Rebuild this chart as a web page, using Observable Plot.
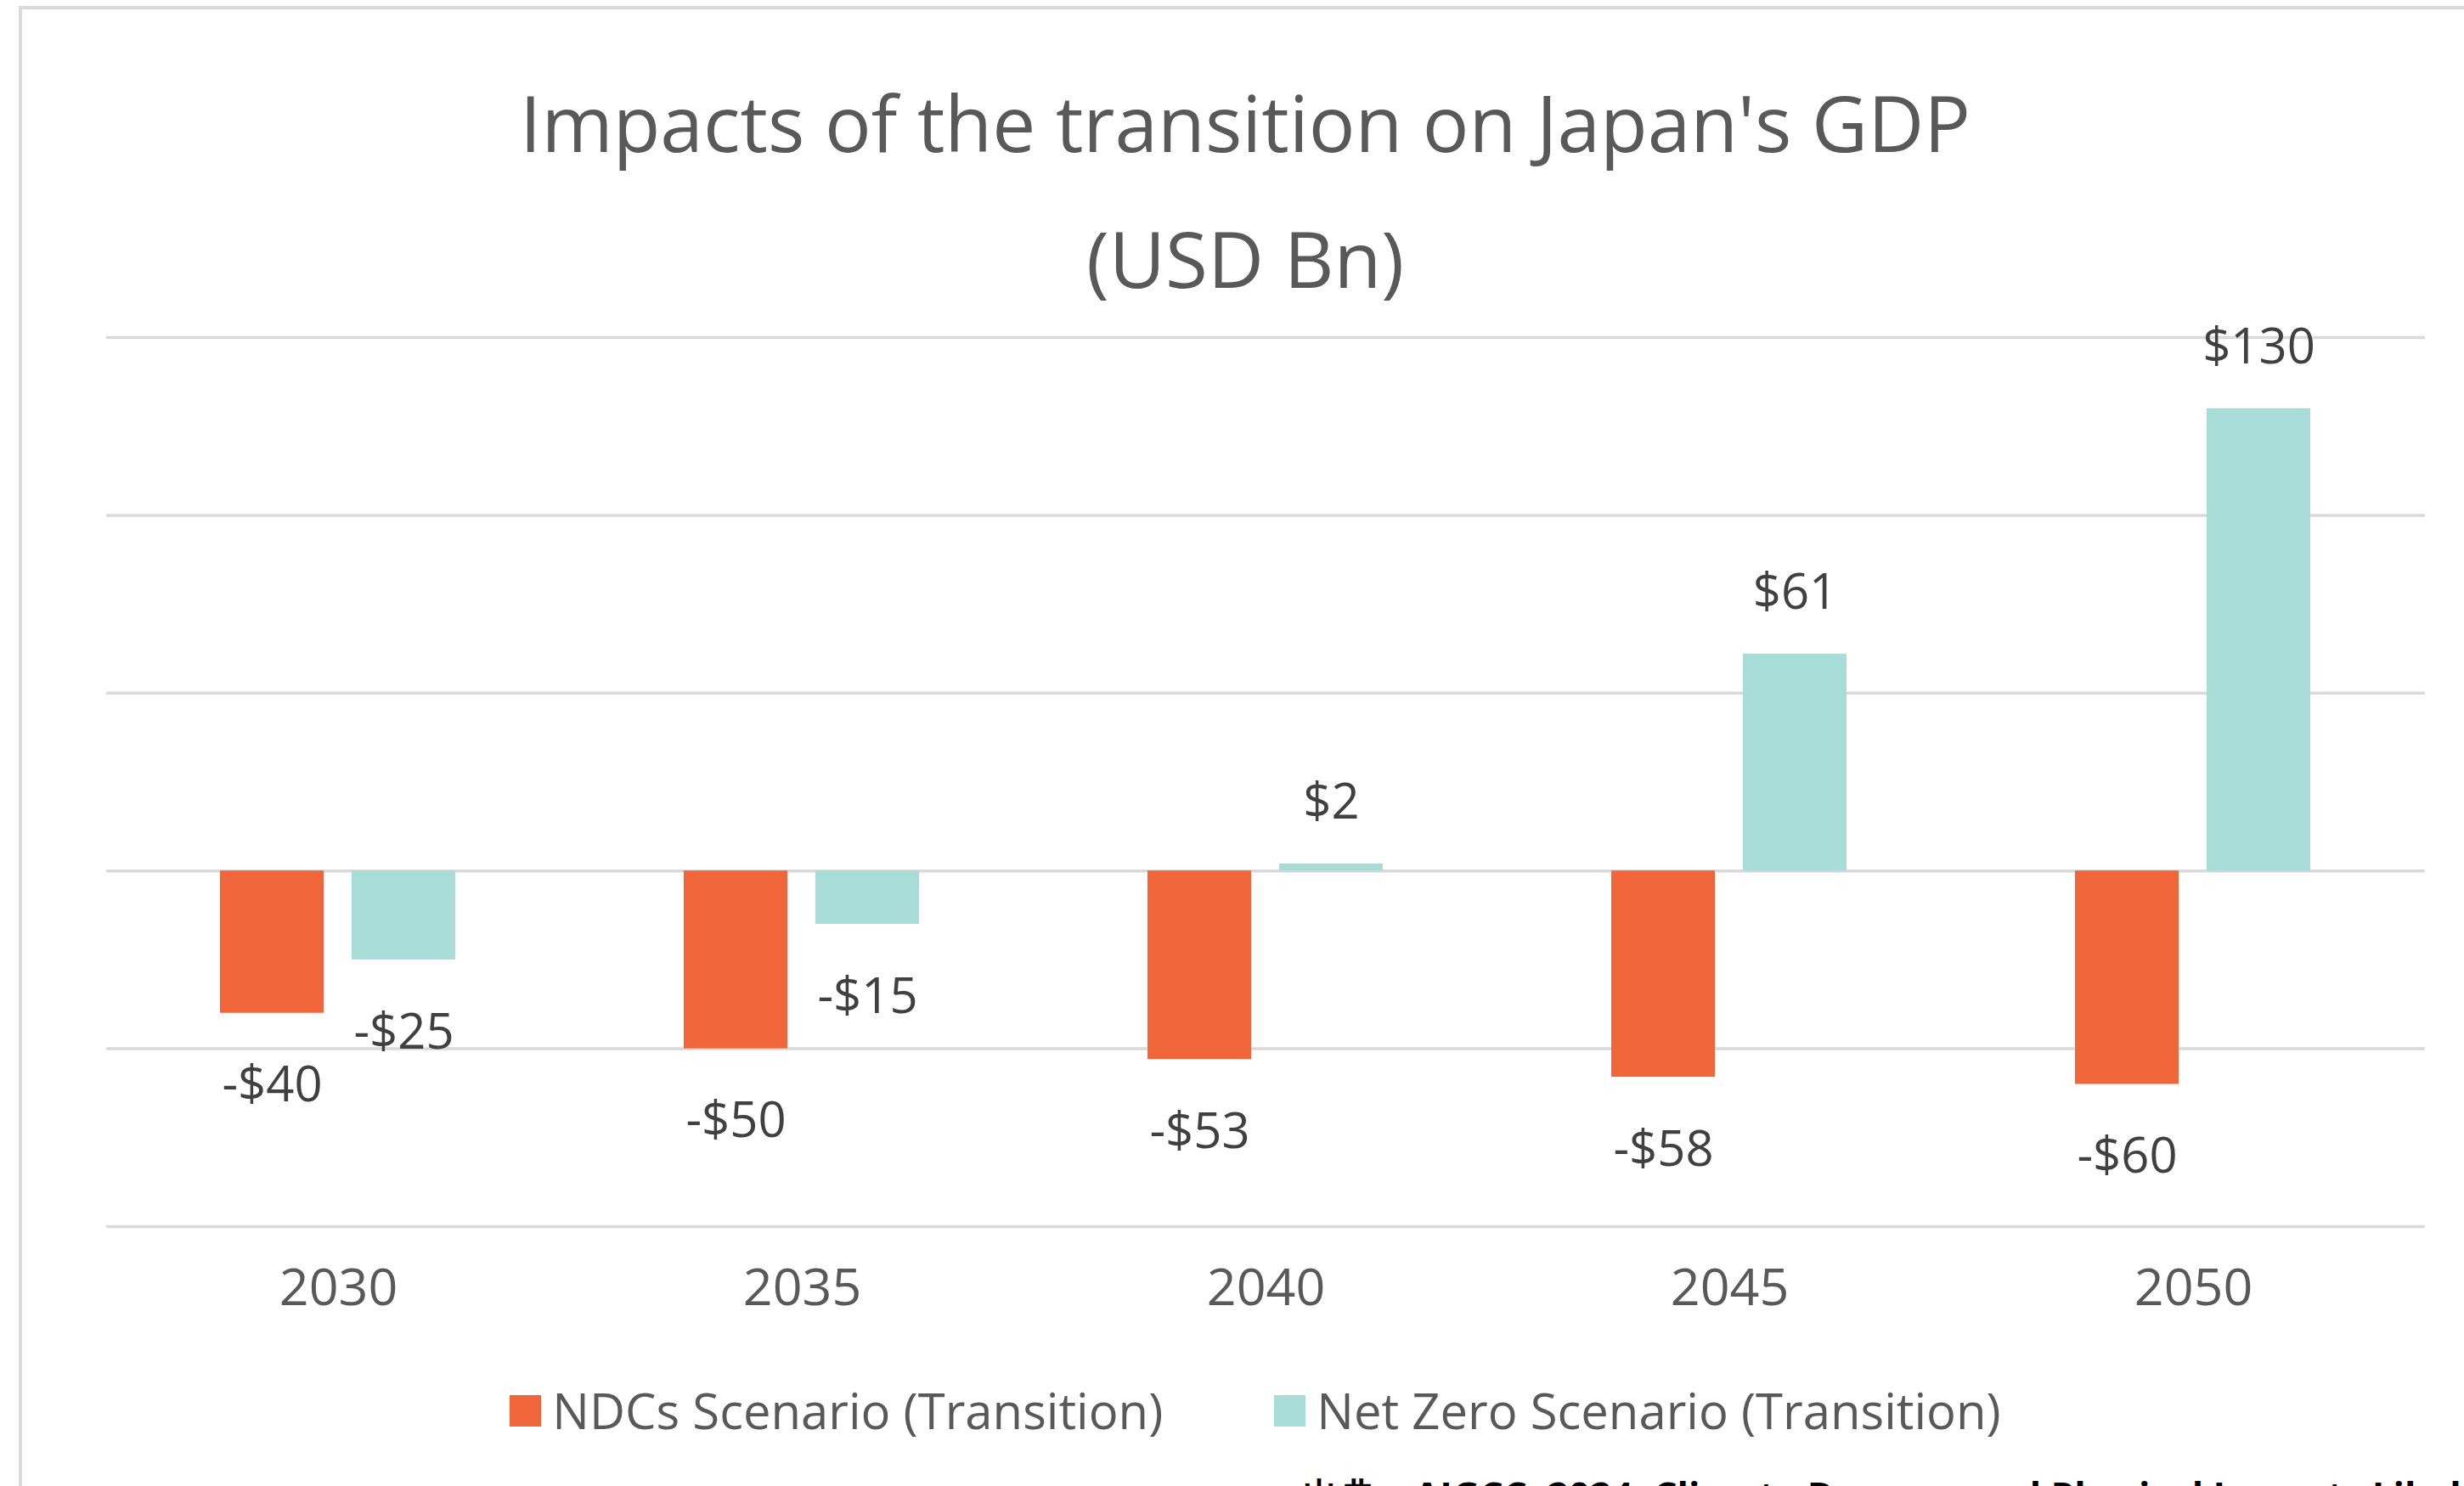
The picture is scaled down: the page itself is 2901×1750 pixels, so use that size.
<!DOCTYPE html>
<html>
<head>
<meta charset="utf-8">
<script src="https://cdn.jsdelivr.net/npm/d3@7"></script>
<script src="https://cdn.jsdelivr.net/npm/@observablehq/plot@0.6"></script>
<style>
  html, body { margin: 0; padding: 0; background: #fff; overflow: hidden; width: 2901px; height: 1750px; }
  #frame { position: absolute; left: 22px; top: 7px; width: 2950px; height: 1800px;
           border-left: 4px solid #d9d9d9; border-top: 4px solid #d9d9d9; box-sizing: border-box; }
  #chart { position: absolute; left: 26px; top: 11px; width: 2880px; font-family: "Open Sans", sans-serif; color: #595959; }
  .title, .subtitle { height: 100px; line-height: 100px; font-size: 91px; text-align: center; white-space: nowrap; }
  .title { margin-top: 83px; }
  .subtitle { margin-top: 60px; }
  #plot { margin-top: 6px; }
  #plot svg { display: block; overflow: visible; }
  #legend { position: absolute; left: 26px; top: 1638px; width: 2880px; padding-left: 82px; box-sizing: border-box; }
  #legend .lg-swatches { display: flex; justify-content: center; align-items: center; margin: 0 !important; min-height: 0; }
  #legend .lg-swatch { display: inline-flex; align-items: center; line-height: 46px; }
  #legend .lg-swatch:not(:last-child) { margin-right: 131px !important; }
  #legend .lg-swatch > svg { margin-right: 13px !important; }
  #caption { position: absolute; left: 1533px; top: 1739px; font-family: "Open Sans", sans-serif; font-weight: bold;
             font-size: 44px; line-height: 44px; color: #000; white-space: nowrap; }
</style>
</head>
<body>
<div id="frame"></div>
<div id="chart">
  <div class="title" id="title"></div>
  <div class="subtitle" id="subtitle"></div>
  <div id="plot"></div>
</div>
<div id="legend"></div>
<div id="caption"></div>
<script>
const titleText = "Impacts of the transition on Japan's GDP";
const subtitleText = "(USD Bn)";
const captionText = "出典：AIGCC, 2024, Climate Dangers and Physical Impacts Likely to Exceed Expectations";
const years = ["2030", "2035", "2040", "2045", "2050"];
const series = ["NDCs Scenario (Transition)", "Net Zero Scenario (Transition)"];
const ndcValues = [-40, -50, -53, -58, -60];
const netZeroValues = [-25, -15, 2, 61, 130];
const seriesColors = ["#F06539", "#A7DCD7"];
const yTicks = [-100, -50, 0, 50, 100, 150];

const FONT = '"Open Sans", sans-serif';

document.getElementById("title").textContent = titleText;
document.getElementById("subtitle").textContent = subtitleText;
document.getElementById("caption").textContent = captionText;

const data = years.flatMap((year, i) => [
  {year, series: series[0], value: ndcValues[i]},
  {year, series: series[1], value: netZeroValues[i]}
]);
const fmt = d => (d.value < 0 ? "-$" + Math.abs(d.value) : "$" + d.value);

const plot = Plot.plot({
  width: 2880,
  height: 1200,
  marginTop: 37,
  marginBottom: 116,
  marginLeft: 98,
  marginRight: 51,
  style: {fontFamily: FONT, fontSize: "61px", color: "#595959", background: "transparent", overflow: "visible"},
  fx: {domain: years, padding: 0, label: null},
  x: {domain: series, paddingInner: 0.2129, paddingOuter: 0.8677, axis: null},
  y: {domain: [-100, 150], axis: null},
  color: {domain: series, range: seriesColors},
  marks: [
    Plot.gridY(yTicks, {stroke: "#d9d9d9", strokeOpacity: 1, strokeWidth: 3.5}),
    Plot.barY(data, {fx: "year", x: "series", y: "value", fill: "series"}),
    Plot.text(data, {filter: d => d.value < 0, fx: "year", x: "series", y: "value", text: fmt,
      lineAnchor: "top", dy: 63, fontSize: 58, fill: "#404040"}),
    Plot.text(data, {filter: d => d.value >= 0, fx: "year", x: "series", y: "value", text: fmt,
      lineAnchor: "bottom", dy: -53, fontSize: 58, fill: "#404040"}),
    Plot.axisFx({anchor: "bottom", tickSize: 0, tickPadding: 49, fontSize: 61, fill: "#595959", label: null})
  ]
});
document.getElementById("plot").appendChild(plot);

const legend = Plot.legend({
  color: {domain: series, range: seriesColors},
  swatchSize: 37,
  className: "lg",
  style: {fontFamily: FONT, fontSize: "58px", color: "#595959"}
});
document.getElementById("legend").appendChild(legend);
</script>
</body>
</html>
